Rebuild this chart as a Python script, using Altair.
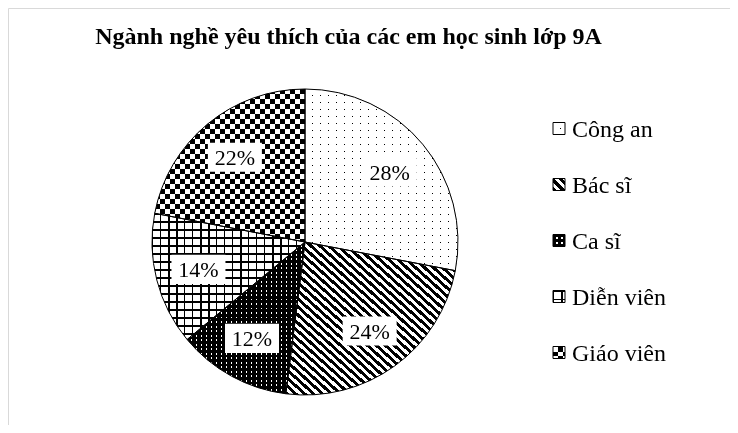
import math
import pandas as pd
import altair as alt

# ---- data ----
title_text = "Ngành nghề yêu thích của các em học sinh lớp 9A"
cats = ["Công an", "Bác sĩ", "Ca sĩ", "Diễn viên", "Giáo viên"]
vals = [28, 24, 12, 14, 22]
order = [0, 1, 2, 3, 4]

df = pd.DataFrame({"cat": cats, "value": vals, "order": order})

# ---- layout / style ----
CX, CY, R = 297, 234, 153
LABEL_R = 110
T = "rgba(255,255,255,0)"
FONT = "Liberation Serif"


def bands(L, period, on, on_color, off_color):
    stops = []
    pos = 0.0
    while pos < L - 1e-9:
        for s, e, col in ((pos, pos + on, on_color), (pos + on, pos + period, off_color)):
            s2, e2 = max(s, 0.0), min(e, L)
            if e2 > s2:
                stops.append({"offset": round(s2 / L, 5), "color": col})
                stops.append({"offset": round(e2 / L, 5), "color": col})
        pos += period
    return stops


def grad(kind, w, h, period, on, on_color, off_color):
    if kind == "h":
        L, c = h, dict(x1=0, y1=0, x2=0, y2=1)
    elif kind == "v":
        L, c = w, dict(x1=0, y1=0, x2=1, y2=0)
    else:
        L, c = 2 * w * h / math.sqrt(w * w + h * h), dict(x1=0, y1=1, x2=1, y2=0)
    g = {"gradient": "linear"}
    g.update(c)
    g["stops"] = bands(L, period, on, on_color, off_color)
    return g


def pattern(cat, w, h):
    if cat == "Công an":
        return "black", [(grad("h", w, h, 7.0, 5.8, "white", T), None),
                         (grad("v", w, h, 8.0, 6.8, "white", T), None)]
    if cat == "Bác sĩ":
        return "white", [(grad("d", w, h, 6.0, 3.0, "black", T), None)]
    if cat == "Ca sĩ":
        return "white", [(grad("h", w, h, 4.5, 2.9, "black", T), None),
                         (grad("v", w, h, 5.0, 3.4, "black", T), None)]
    if cat == "Diễn viên":
        return "white", [(grad("h", w, h, 8.0, 1.5, "black", T), None),
                         (grad("v", w, h, 8.0, 1.5, "black", T), None)]
    return "white", [(grad("h", w, h, 10.0, 5.0, "black", T), None),
                     (grad("v", w, h, 10.0, 5.0, "white", T), "difference")]


def slice_bbox(a0, a1):
    pts = [(0.0, 0.0)]
    angs = [a0, a1] + [k * 90 for k in range(5) if a0 < k * 90 < a1]
    for a in angs:
        r = math.radians(a)
        pts.append((R * math.sin(r), -R * math.cos(r)))
    xs = [p[0] for p in pts]
    ys = [p[1] for p in pts]
    return max(xs) - min(xs), max(ys) - min(ys)


def stacked():
    return alt.Chart(df).transform_stack(
        stack="value", as_=["v0", "v1"], groupby=[],
        sort=[alt.SortField("order", order="ascending")]
    )


theta = alt.Theta("v0:Q", scale=alt.Scale(domain=[0, 100]))
theta2 = alt.Theta2("v1")

layers = []
total = sum(vals)
acc = 0.0
for i, c in enumerate(cats):
    a0 = acc / total * 360
    acc += vals[i]
    a1 = acc / total * 360
    w, h = slice_bbox(a0, a1)
    base, pats = pattern(c, w, h)
    sel = stacked().transform_filter(alt.datum.cat == c)
    layers.append(sel.mark_arc(outerRadius=R, fill=base).encode(
        theta=theta, theta2=theta2, x=alt.value(CX), y=alt.value(CY)))
    for g, blend in pats:
        kw = {"outerRadius": R, "fill": g}
        if blend:
            kw["blend"] = blend
        layers.append(sel.mark_arc(**kw).encode(
            theta=theta, theta2=theta2, x=alt.value(CX), y=alt.value(CY)))

    # legend swatch
    lbase, lpats = pattern(c, 12, 12)
    leg = alt.Chart(df).transform_filter(alt.datum.cat == c).transform_calculate(
        ly="120.5 + 56 * datum.order")
    layers.append(leg.mark_square(size=144, fill=lbase, opacity=1, strokeWidth=0).encode(
        x=alt.value(551), y=alt.Y("ly:Q", scale=None)))
    for g, blend in lpats:
        kw = {"size": 144, "fill": g, "opacity": 1, "strokeWidth": 0}
        if blend:
            kw["blend"] = blend
        layers.append(leg.mark_square(**kw).encode(
            x=alt.value(551), y=alt.Y("ly:Q", scale=None)))

# slice outlines
layers.append(stacked().mark_arc(outerRadius=R, fillOpacity=0, stroke="black", strokeWidth=1).encode(
    theta=theta, theta2=theta2, x=alt.value(CX), y=alt.value(CY)))

# legend swatch outlines + text
leg_all = alt.Chart(df).transform_calculate(ly="120.5 + 56 * datum.order")
layers.append(leg_all.mark_square(size=144, fillOpacity=0, stroke="black", strokeWidth=1).encode(
    x=alt.value(551), y=alt.Y("ly:Q", scale=None)))
layers.append(leg_all.mark_text(font=FONT, fontSize=24, align="left", baseline="middle",
                                color="black", dy=1).encode(
    x=alt.value(564), y=alt.Y("ly:Q", scale=None), text="cat:N"))

# data labels with white boxes
lab = stacked().transform_calculate(
    mid="(datum.v0 + datum.v1) / 2 / 100 * 2 * PI",
    lx=f"{CX} + {LABEL_R} * sin(datum.mid)",
    ly=f"{CY} - {LABEL_R} * cos(datum.mid)",
    lab="datum.value + '%'",
)
layers.append(lab.mark_point(shape="M-1,-0.54L1,-0.54L1,0.54L-1,0.54Z", size=54 * 54,
                             filled=True, fill="white", opacity=1, strokeWidth=0).encode(
    x=alt.X("lx:Q", scale=None), y=alt.Y("ly:Q", scale=None)))
layers.append(lab.mark_text(font=FONT, fontSize=22, align="center", baseline="middle",
                            color="black", dy=1).encode(
    x=alt.X("lx:Q", scale=None), y=alt.Y("ly:Q", scale=None), text="lab:N"))

# title
tdf = pd.DataFrame({"t": [title_text]})
layers.append(alt.Chart(tdf).mark_text(font=FONT, fontSize=24, fontWeight="bold",
                                       align="center", baseline="alphabetic", color="black").encode(
    x=alt.value(340.5), y=alt.value(36), text="t:N"))

chart = alt.layer(*layers).properties(
    width=722, height=417, padding=0, autosize="none"
).configure_view(stroke="#d9d9d9", strokeWidth=1)

chart.save("out.html", embed_options={"renderer": "svg", "actions": False})
